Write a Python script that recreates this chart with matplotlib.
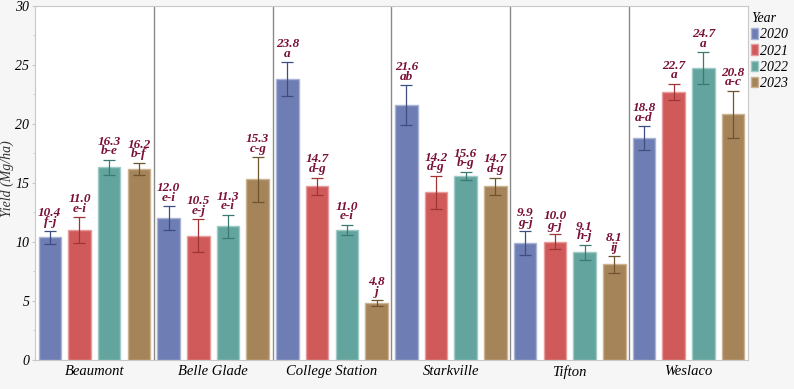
import matplotlib.pyplot as plt
import numpy as np

sites = ["Beaumont", "Belle Glade", "College Station", "Starkville", "Tifton", "Weslaco"]
years = ["2020", "2021", "2022", "2023"]

yield_2020 = [10.4, 12.0, 23.8, 21.6, 9.9, 18.8]
yield_2021 = [11.0, 10.5, 14.7, 14.2, 10.0, 22.7]
yield_2022 = [16.3, 11.3, 11.0, 15.6, 9.1, 24.7]
yield_2023 = [16.2, 15.3, 4.8, 14.7, 8.1, 20.8]

err_2020 = [0.55, 1.0, 1.4, 1.7, 1.0, 1.0]
err_2021 = [1.1, 1.4, 0.75, 1.4, 0.65, 0.7]
err_2022 = [0.65, 1.0, 0.45, 0.35, 0.65, 1.35]
err_2023 = [0.5, 1.9, 0.25, 0.75, 0.7, 2.0]

letters_2020 = ["f-j", "e-i", "a", "ab", "g-j", "a-d"]
letters_2021 = ["e-i", "e-j", "d-g", "d-g", "g-j", "a"]
letters_2022 = ["b-e", "e-i", "e-i", "b-g", "h-j", "a"]
letters_2023 = ["b-f", "c-g", "j", "d-g", "ij", "a-c"]

values = [yield_2020, yield_2021, yield_2022, yield_2023]
errors = [err_2020, err_2021, err_2022, err_2023]
letters = [letters_2020, letters_2021, letters_2022, letters_2023]

colors = ["#6e7db3", "#d05a5a", "#63a59e", "#a6845a"]
edge_colors = ["#a9b3d6", "#e69c9c", "#9fcbc6", "#cbb391"]
err_colors = ["#3f4d82", "#a03434", "#3a7a73", "#6f5430"]
label_color = "#7a1038"

plt.rcParams['font.family'] = ['Liberation Serif', 'DejaVu Serif']
plt.rcParams['font.style'] = 'italic'

fig = plt.figure(figsize=(7.94, 3.89), dpi=100, facecolor="#f6f6f6")
ax = fig.add_axes([0.044, 0.075, 0.898, 0.91])
ax.set_facecolor("white")

x = np.arange(len(sites))
width = 0.19
for j in range(4):
    xs = x + (j - 1.5) * 0.25
    ax.bar(xs, values[j], width, color=colors[j], edgecolor=edge_colors[j],
           linewidth=1, label=years[j], zorder=2)
    ax.errorbar(xs, values[j], yerr=errors[j], fmt='none', ecolor=err_colors[j],
                elinewidth=0.9, capsize=4, capthick=0.9, zorder=3)
    for k in range(len(sites)):
        top = values[j][k] + errors[j][k]
        ax.text(xs[k], top + 0.2, f"{values[j][k]:.1f}\n{letters[j][k]}",
                ha='center', va='bottom', color=label_color, fontsize=9.5,
                fontweight='bold', fontstyle='italic', linespacing=0.75, zorder=4)

for i in range(1, len(sites)):
    ax.axvline(i - 0.5, color="#8a8a8a", linewidth=1, zorder=1)

ax.set_xlim(-0.5, len(sites) - 0.5)
ax.set_ylim(0, 30)
ax.set_yticks(range(0, 31, 5))
ax.set_yticks(np.arange(2.5, 30, 5), minor=True)
ax.set_xticks(x)
ax.set_xticklabels(sites, fontsize=10.5, fontstyle='italic')
ax.tick_params(axis='y', labelsize=10, length=2, color="#c8c8c8", pad=2)
ax.tick_params(axis='y', which='minor', length=1.5, color="#c8c8c8")
ax.tick_params(axis='x', length=0, pad=4)
for lab in ax.get_yticklabels():
    lab.set_fontstyle('italic')

fig.text(7 / 794, 1 - 179 / 389, "Yield (Mg/ha)", rotation=90, ha='center', va='center',
         fontsize=10, fontstyle='italic', color="#333333")

for s in ax.spines.values():
    s.set_color("#c8c8c8")

leg = ax.legend(loc='upper left', bbox_to_anchor=(1.0, 0.99), frameon=False,
                handlelength=0.5, handleheight=0.8, handletextpad=0.15,
                labelspacing=0.22, borderaxespad=0.1, borderpad=0.1, fontsize=10,
                title="Year", title_fontproperties={'size': 10, 'style': 'italic'})
leg._legend_box.align = "left"

fig.savefig("out.png", dpi=100, facecolor=fig.get_facecolor())
